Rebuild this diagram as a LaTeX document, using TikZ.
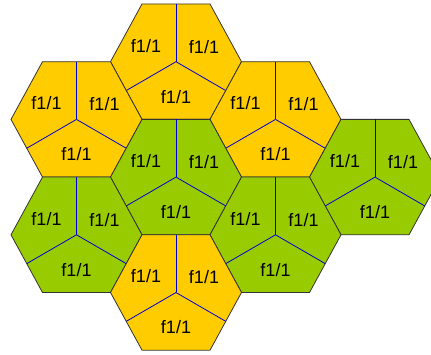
\documentclass[tikz,border=0pt]{standalone}
\usepackage{fontspec}
\setmainfont{Liberation Sans}
\usepackage{xcolor}
\usepackage{tikz}
\usetikzlibrary{calc}
\definecolor{cellyellow}{HTML}{FFCC00}
\definecolor{cellgreen}{HTML}{99CC00}

\begin{document}
\begin{tikzpicture}[
  x=1pt, y=-1pt,
  font=\fontsize{18}{20}\selectfont,
  cell/.style={draw=black!80, line width=0.8pt, line join=miter},
  sector/.style={draw=blue!85!black, line width=0.8pt},
  lbl/.style={inner sep=0pt}
]
\useasboundingbox (0,0) rectangle (431,355);
\clip (0,0) rectangle (431,355);
% cells: centre x / centre y / fill / name
\foreach \cx/\cy/\col/\n in {176/61.7/cellyellow/a, 76.5/119.4/cellyellow/b,
    275.5/119.4/cellyellow/c, 176/177.1/cellgreen/d, 375/177.1/cellgreen/e,
    76.5/234.8/cellgreen/f, 275.5/234.8/cellgreen/g, 176/292.5/cellyellow/h} {
  \coordinate (\n) at (\cx,\cy);
  \filldraw[cell, fill=\col] ($(\n)+(-65.5,0)$) -- ++(31.5,-57.7) -- ++(68,0)
    -- ++(31.5,57.7) -- ++(-31.5,57.7) -- ++(-68,0) -- cycle;
  \draw[sector] (\n) -- ++(0,-57.7);
  \draw[sector] (\n) -- ++(-49.75,28.85);
  \draw[sector] (\n) -- ++(49.75,28.85);
  \node[lbl] (\n l) at ($(\n)+(-30,-16)$) {f1/1};
  \node[lbl] (\n r) at ($(\n)+(28,-15)$)  {f1/1};
  \node[lbl] (\n b) at ($(\n)+(0,35)$)    {f1/1};
}
\end{tikzpicture}
\end{document}
